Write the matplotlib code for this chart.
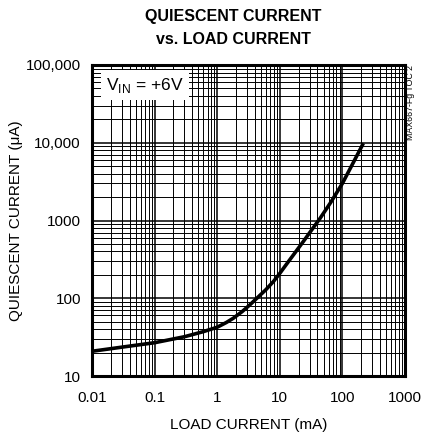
import numpy as np
import matplotlib
matplotlib.use("Agg")
import matplotlib.pyplot as plt

# curve (load current mA -> quiescent current uA)
load_ma = [0.01, 0.03, 0.1, 0.3, 0.6, 1, 1.4, 1.8, 2.5, 3.3, 4.3, 6, 8, 10,
           13, 17, 24, 30, 44, 65, 100, 150, 216]
quiescent_ua = [20.8, 23.5, 26.8, 32, 37.2, 42.4, 48.8, 55.2, 67.3, 81.8, 100,
                129, 166, 209, 279, 373, 543, 697, 1067, 1706, 3000, 5600, 9840]

x_ticks = [0.01, 0.1, 1, 10, 100, 1000]
x_labels = ["0.01", "0.1", "1", "10", "100", "1000"]
y_ticks = [10, 100, 1000, 10000, 100000]
y_labels = ["10", "100", "1000", "10,000", "100,000"]

plt.rcParams['font.family'] = ['Liberation Sans', 'DejaVu Sans']
plt.rcParams['mathtext.fontset'] = 'custom'
plt.rcParams['mathtext.rm'] = 'Liberation Sans'

figWidth = 4.27
figHeight = 4.37
fig = plt.figure(figsize=(figWidth, figHeight), dpi=100)
ax = fig.add_axes([92/427, 61/437, 313/427, 311/437])

ax.set_xscale('log')
ax.set_yscale('log')
ax.set_xlim(0.01, 1000)
ax.set_ylim(10, 100000)

# grid: every 1..9 of each decade, decades slightly heavier
for dec in range(-2, 3):
    for m in range(1, 10):
        v = m * 10.0**dec
        ax.axvline(v, color='black', lw=1.1 if m == 1 else 0.7, zorder=1)
for dec in range(1, 5):
    for m in range(1, 10):
        v = m * 10.0**dec
        ax.axhline(v, color='black', lw=1.1 if m == 1 else 0.7, zorder=1)

ax.plot(load_ma, quiescent_ua, color='black', lw=2.6, zorder=3,
        solid_capstyle='butt', solid_joinstyle='round')

ax.set_xticks(x_ticks)
ax.set_xticklabels(x_labels)
ax.set_yticks(y_ticks)
ax.set_yticklabels(y_labels)
ax.minorticks_off()
ax.tick_params(axis='x', which='both', length=0, labelsize=11, pad=11)
ax.tick_params(axis='y', which='both', length=0, labelsize=11, pad=8)
for s in ax.spines.values():
    s.set_linewidth(2.2)
    s.set_zorder(4)

ax.set_xlabel("LOAD CURRENT (mA)", fontsize=11, labelpad=9)
ax.set_ylabel("QUIESCENT CURRENT (\u03bcA)", fontsize=11, labelpad=2)

fig.text(233/427, 1 - 16/437, "QUIESCENT CURRENT", ha='center', va='center',
         fontsize=11.5, fontweight='bold')
fig.text(233/427, 1 - 40/437, "vs. LOAD CURRENT", ha='center', va='center',
         fontsize=11.5, fontweight='bold')

ax.text(0.045, 0.935, r"V$_{\mathrm{IN}}$ = +6V", transform=ax.transAxes,
        fontsize=12.5, ha='left', va='center', zorder=5,
        bbox=dict(facecolor='white', edgecolor='none', pad=4))

fig.text(411/427, 1 - 65/437, "MAX667-Fg TOC 2", rotation=90, ha='center',
         va='top', fontsize=6.3)

plt.savefig("out.png", dpi=100)
